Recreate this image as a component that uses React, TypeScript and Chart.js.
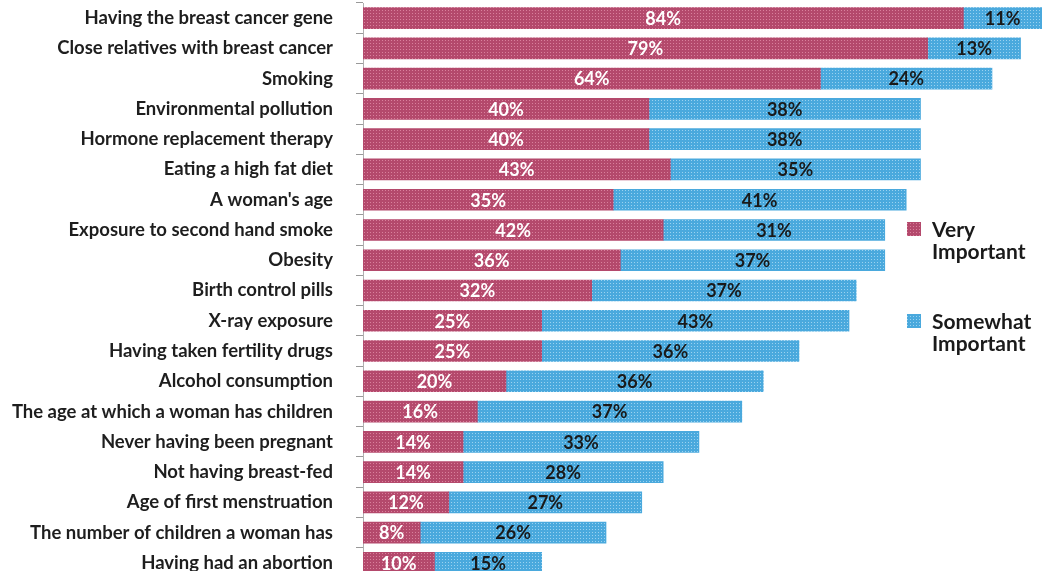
import React, { useEffect, useRef } from "react";
import { Chart, registerables } from "chart.js";

Chart.register(...registerables);

const categories = [
  "Having the breast cancer gene",
  "Close relatives with breast cancer",
  "Smoking",
  "Environmental pollution",
  "Hormone replacement therapy",
  "Eating a high fat diet",
  "A woman's age",
  "Exposure to second hand smoke",
  "Obesity",
  "Birth control pills",
  "X-ray exposure",
  "Having taken fertility drugs",
  "Alcohol consumption",
  "The age at which a woman has children",
  "Never having been pregnant",
  "Not having breast-fed",
  "Age of first menstruation",
  "The number of children a woman has",
  "Having had an abortion",
];

const veryImportant = [84, 79, 64, 40, 40, 43, 35, 42, 36, 32, 25, 25, 20, 16, 14, 14, 12, 8, 10];
const somewhatImportant = [11, 13, 24, 38, 38, 35, 41, 31, 37, 37, 43, 36, 36, 37, 33, 28, 27, 26, 15];

const seriesNames = ["Very Important", "Somewhat Important"];
const legendLines = [["Very", "Important"], ["Somewhat", "Important"]];

const FONT = "Lato, 'DejaVu Sans', sans-serif";

function makePattern(base: string, dot: string): CanvasPattern | string {
  const c = document.createElement("canvas");
  c.width = 3;
  c.height = 3;
  const x = c.getContext("2d");
  if (!x) return base;
  x.fillStyle = base;
  x.fillRect(0, 0, 3, 3);
  x.fillStyle = dot;
  x.fillRect(1, 1, 1, 1);
  return x.createPattern(c, "repeat") || base;
}

export default function App() {
  const ref = useRef<HTMLCanvasElement | null>(null);

  useEffect(() => {
    if (!ref.current) return;
    const pinkFill = makePattern("#b4496c", "#d9809c");
    const blueFill = makePattern("#4aa9dd", "#9ad2f0");
    const fills = [pinkFill, blueFill];
    const labelColors = ["#ffffff", "#1a1a1a"];

    const dataLabels = {
      id: "dataLabels",
      afterDatasetsDraw(chart: any) {
        const ctx = chart.ctx;
        ctx.save();
        ctx.font = `bold 18px ${FONT}`;
        ctx.textAlign = "center";
        ctx.textBaseline = "middle";
        chart.data.datasets.forEach((ds: any, di: number) => {
          const meta = chart.getDatasetMeta(di);
          meta.data.forEach((el: any, i: number) => {
            const v = ds.data[i];
            const p = el.getProps(["x", "y", "base"], true);
            const cx = (p.x + p.base) / 2;
            ctx.fillStyle = labelColors[di];
            ctx.fillText(`${v}%`, cx, p.y + 1);
          });
        });
        ctx.restore();
      },
    };

    const customLegend = {
      id: "customLegend",
      afterDraw(chart: any) {
        const ctx = chart.ctx;
        ctx.save();
        const tops = [222, 314];
        legendLines.forEach((lines, i) => {
          const y = tops[i];
          ctx.fillStyle = fills[i];
          ctx.fillRect(907, y, 14, 14);
          ctx.fillStyle = "#1a1a1a";
          ctx.font = `bold 21px ${FONT}`;
          ctx.textAlign = "left";
          ctx.textBaseline = "middle";
          lines.forEach((t, li) => {
            ctx.fillText(t, 932, y + 8 + li * 22);
          });
        });
        ctx.restore();
      },
    };

    const chart = new Chart(ref.current, {
      type: "bar",
      data: {
        labels: categories,
        datasets: [
          {
            label: seriesNames[0],
            data: veryImportant,
            backgroundColor: pinkFill as any,
            borderWidth: 0,
            barThickness: 21,
          },
          {
            label: seriesNames[1],
            data: somewhatImportant,
            backgroundColor: blueFill as any,
            borderWidth: 0,
            barThickness: 21,
          },
        ],
      },
      options: {
        indexAxis: "y",
        animation: false,
        responsive: false,
        maintainAspectRatio: false,
        layout: { padding: { top: 3, left: 0, right: 0, bottom: 0 } },
        plugins: {
          legend: { display: false },
          tooltip: { enabled: false },
        },
        scales: {
          x: {
            stacked: true,
            display: false,
            min: 0,
            max: 95,
          },
          y: {
            stacked: true,
            afterFit: (scale: any) => {
              scale.width = 363;
              scale.paddingTop = 0;
              scale.paddingBottom = 0;
            },
            grid: {
              display: true,
              drawOnChartArea: false,
              drawTicks: true,
              tickLength: 7,
              color: "#999999",
              offset: true,
            },
            border: { display: true, color: "#b0b0b0" },
            ticks: {
              padding: 23,
              color: "#1e1e1e",
              font: { family: FONT, size: 18.5, weight: "bold" },
            },
          },
        },
      },
      plugins: [dataLabels, customLegend],
    });
    return () => chart.destroy();
  }, []);

  return (
    <div style={{ position: "fixed", left: 0, top: 0, width: 1042, height: 571, overflow: "hidden", background: "#fff" }}>
      <canvas ref={ref} width={1042} height={578} style={{ display: "block", width: 1042, height: 578 }} />
    </div>
  );
}
